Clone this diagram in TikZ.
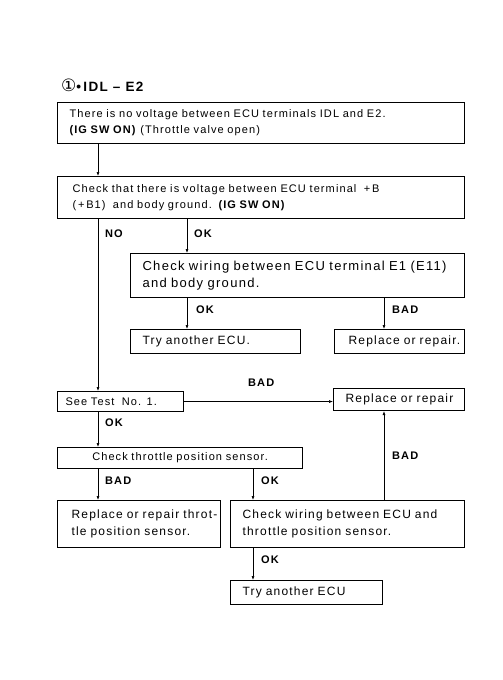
\documentclass[tikz,border=0pt]{standalone}
\usepackage{fontspec}
\newfontfamily\chartfont{Liberation Sans}[LetterSpace=10]
\newfontfamily\symbfont{DejaVu Sans}
\usetikzlibrary{arrows.meta}
\tikzset{
	small/.style={font=\chartfont\fontsize{11}{16}\selectfont},
	mid/.style={font=\chartfont\fontsize{12}{16.5}\selectfont},
	big/.style={font=\chartfont\fontsize{13}{17}\selectfont},
	box/.style={draw, line width=1.1pt, inner xsep=12pt, inner ysep=0pt, align=left, anchor=north west},
	lbl/.style={font=\chartfont\bfseries\fontsize{11}{12}\selectfont, anchor=west, inner sep=0pt},
	arr/.style={line width=0.6pt, -{Latex[length=4pt,width=3pt]}},
}

\begin{document}
\begin{tikzpicture}[x=1pt, y=-1pt]
		%%%%% START %%%%%
		\useasboundingbox (0,0) rectangle (503,680);
		
		\node[anchor=west, inner sep=0pt] (title) at (61,85) {{\symbfont\fontsize{17}{17}\selectfont ①}{\chartfont\bfseries\fontsize{13.5}{13.5}\selectfont •\,IDL – E2}};
		
		% columns of the connectors
		\coordinate (colA) at (98,0);
		\coordinate (colB) at (187,0);
		\coordinate (colC) at (384,0);
		\coordinate (colD) at (253,0);
		
		% boxes
		\node[box, small, text width=383pt, minimum height=41pt] (novolt) at (57,102)
			{\mbox{There is no voltage between ECU terminals IDL and E2.}\\\mbox{\textbf{(IG SW ON)} (Throttle valve open)}};
		\node[box, small, inner xsep=15pt, text width=377pt, minimum height=42pt] (checkb) at (57,176)
			{\mbox{Check that there is voltage between ECU terminal \ +\,B}\\\mbox{(\,+\,B1) \ and body ground. \textbf{(IG SW ON)}}};
		\node[box, big, text width=310pt, minimum height=44pt] (wireground) at (130,253)
			{\mbox{Check wiring between ECU terminal E1 (E11)}\\\mbox{and body ground.}};
		\node[box, mid, text width=146pt, minimum height=24pt] (tryecuA) at (130,329) {\mbox{Try another ECU.}};
		\node[box, mid, inner xsep=14pt, text width=102pt, minimum height=24pt] (repairA) at (334,329) {\mbox{Replace or repair.}};
		
		\node[box, small, inner xsep=8pt, text width=110pt, minimum height=20pt] (seetest) at (57,391) {\mbox{See Test \ No. 1.}};
		\node[box, mid, align=center, text width=107pt, minimum height=22pt] (repairB) at (333,388) {\mbox{Replace or repair}};
		\node[box, small, align=center, text width=221pt, minimum height=21pt] (throttle) at (57,447) {\mbox{Check throttle position sensor.}};
		\node[box, mid, inner xsep=14pt, text width=135pt, minimum height=47pt] (repairtps) at (57,500)
			{\mbox{Replace or repair throt-}\\\mbox{tle position sensor.}};
		\node[box, mid, text width=210pt, minimum height=47pt] (wiretps) at (230,500)
			{\mbox{Check wiring between ECU and}\\\mbox{throttle position sensor.}};
		\node[box, mid, text width=128pt, minimum height=24pt] (tryecuB) at (230,580) {\mbox{Try another ECU}};
		
		% connectors
		\draw[arr] (novolt.south -| colA) -- (checkb.north -| colA);
		\draw[arr] (checkb.south -| colA) -- (seetest.north -| colA);
		\draw[arr] (checkb.south -| colB) -- (wireground.north -| colB);
		\draw[arr] (wireground.south -| colB) -- (tryecuA.north -| colB);
		\draw[arr] (wireground.south -| colC) -- (repairA.north -| colC);
		\draw[arr] (seetest.east) -- (seetest.east -| repairB.west);
		\draw[arr] (seetest.south -| colA) -- (throttle.north -| colA);
		\draw[arr] (throttle.south -| colA) -- (repairtps.north -| colA);
		\draw[arr] (throttle.south -| colD) -- (wiretps.north -| colD);
		\draw[arr] (wiretps.north -| colC) -- (repairB.south -| colC);
		\draw[arr] (wiretps.south -| colD) -- (tryecuB.north -| colD);
		
		% labels
		\node[lbl] (noA) at (105,234) {NO};
		\node[lbl] (okA) at (194,234) {OK};
		\node[lbl] (okB) at (196,310) {OK};
		\node[lbl] (badA) at (392,310) {BAD};
		\node[lbl] (badB) at (248,383) {BAD};
		\node[lbl] (okC) at (105,423) {OK};
		\node[lbl] (badC) at (392,456) {BAD};
		\node[lbl] (badD) at (105,481) {BAD};
		\node[lbl] (okD) at (261,481) {OK};
		\node[lbl] (okE) at (261,560) {OK};
		
		%%%%% END %%%%%
	\end{tikzpicture}
\end{document}
